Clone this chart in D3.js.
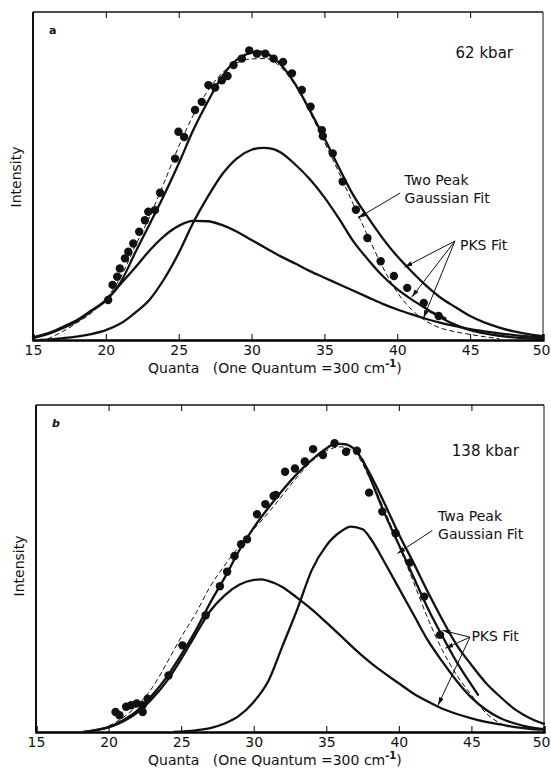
<!DOCTYPE html>
<html>
<head>
<meta charset="utf-8">
<script src="https://cdn.jsdelivr.net/npm/d3@7"></script>
<style>
  body { margin: 0; background: #fff; }
  text { font-family: "DejaVu Sans", sans-serif; fill: #111; }
</style>
</head>
<body>
<script>
// ---- data: [quanta, intensity (0-100 of frame height)] ----
var xTicks = [15, 20, 25, 30, 35, 40, 45, 50];
var innerTicks = [20, 25, 30, 35, 40, 45];

// panel a (62 kbar)
var aPks = [[15,0.8],[16,2],[17,3.9],[18,6],[19,9],[20,12.2],[21,17.5],[22,26.5],[23,35.3],[24,44.2],[25,53.8],[26,64],[27,72.7],[28,80.5],[29,85.5],[30,87.6],[30.5,88],[31,87.4],[32,84],[33,78],[34,70],[35,61.5],[36,52.5],[37,44],[38,37.3],[39,31],[40,25.5],[41,20.8],[42,16.5],[43,12.8],[44,10],[45,7.3],[46,5.3],[47,3.8],[48,2.6],[49,1.8],[50,1.2]];
var aDashed = [[16,0.3],[17,2.5],[18,5.2],[19,8.2],[20,12.5],[21,19],[22,28.5],[23,37.5],[24,48],[25,59],[26,68.5],[27,76],[28,81.5],[29,84.5],[30,85.7],[31,85.8],[32,83.2],[33,77.5],[34,69.5],[35,60.3],[36,51],[37,41.2],[38,31.5],[39,22.2],[40,14.5],[41,9.2],[42,5.7],[43,3.6],[44,2.5],[45,1.7],[46,1],[47,0.4]];
var aComp1 = [[15,0.6],[16,1.8],[17,3.5],[18,5.7],[19,8.8],[20,12],[21,17],[22,22],[23,27.3],[24,31.7],[25,34.8],[26,36.3],[27,36.2],[28,35],[29,33],[30,30.5],[31,28],[32,25.5],[33,23.3],[34,21],[35,19],[36,17],[37,15],[38,13],[39,11],[40,9.3],[41,7.8],[42,6.4],[43,5.2],[44,4.2],[45,3.3],[46,2.6],[47,2],[48,1.5],[49,1.1],[50,0.8]];
var aComp2 = [[15.5,0],[17,0.5],[18,1],[19,1.8],[20,3],[21,5],[22,8.3],[23,12.3],[24,18.6],[25,26.5],[26,35.8],[27,43.7],[28,50.6],[29,55.4],[30,58],[30.8,58.6],[31.5,58.2],[32,57.2],[33,53.5],[34,49],[35,43.5],[36,37],[37,30],[38,24.5],[39,19.5],[40,15.5],[41,12.3],[42,9.5],[43,6.8],[44,4.6],[45,3],[46,2],[47,1.3],[48,0.8],[49,0.5],[50,0.3]];
var aTail = [[42.2,8.8],[43.3,6.6]];
var aDots = [[20.16,12.2],[20.46,16.8],[20.78,19.3],[20.96,21.8],[21.31,24.9],[21.54,26.9],[21.88,29.4],[22.29,33],[22.68,36.5],[22.91,39.1],[23.37,39.6],[23.72,44.9],[24.75,55.3],[24.98,63.5],[25.37,61.9],[26.12,70.1],[26.58,72.6],[27.04,77.7],[27.5,77],[27.96,79.2],[28.35,80.5],[28.76,83.8],[29.33,85.8],[29.84,88.3],[30.37,87.3],[30.94,87.3],[31.51,85.8],[32.16,84.8],[32.77,81.3],[33.45,76.2],[34.05,71.1],[34.82,64],[34.89,62.2],[35.57,56.9],[36.25,48.3],[37.16,39.7],[37.95,31.1],[38.86,24],[39.77,19.5],[40.68,15.9],[41.82,11.3],[42.84,7.3]];

// panel b (138 kbar)
var bPks = [[18.3,0],[19,0.5],[20,1.5],[21,3.6],[22,6.6],[23,11.2],[24,16.8],[25,23.6],[26,31],[27,39.5],[28,47.2],[29,55.5],[30,62.5],[31,68.5],[32,74],[33,79],[34,83.2],[35,86.7],[35.6,88.2],[36.3,88],[37,86.2],[38,79],[39,70],[40,60.5],[41,51.8],[42,42.8],[43,34.3],[44,26.5],[45,20.5],[46,15],[47,10.7],[48,6.9],[49,4.3],[50,2.5]];
var bInner = [[37.5,83.3],[38,78],[39,67],[40,57.3],[41,47.5],[42,37.8],[43,29.3],[44,21.3],[45,14.4],[45.45,11.4]];
var bDashed = [[20,1.8],[21,4.4],[22,8.2],[23,13.5],[24,21],[25,29],[26,36.2],[27,44.5],[28,51],[29,56.8],[30,62],[31,67],[32,72.5],[33,78],[34,82.8],[35,86],[36,87.2],[37,85.3],[38,77.5],[39,68],[40,57],[41,46],[42,34.7],[43,25],[44,17.3],[45,11.3],[46,5.8],[47,2.6],[47.5,1.5]];
var bComp1 = [[18.3,0],[19,0.5],[20,1.4],[21,3.2],[22,6],[23,10.2],[24,15.5],[25,22.3],[26,29.8],[27,37],[28,41.8],[29,45],[30,46.5],[30.5,46.7],[31,46.2],[32,44.3],[33,41],[34,37.5],[35,33.5],[36,29.4],[37,25.2],[38,21.4],[39,18],[40,14.9],[41,11.8],[42,9.3],[43,7.1],[44,5.5],[45,4.2],[46,3.1],[47,2.3],[48,1.5],[49,1],[50,0.7]];
var bComp2 = [[24.5,0],[26,0.5],[27,1.2],[28,2.6],[29,5],[30,9.2],[31,15.5],[32,26.5],[33,37.5],[34,49.5],[35,57],[36,61.3],[36.7,62.8],[37.5,62],[38,59.5],[39,52],[40,44],[41,36],[42,28],[43,21.5],[44,15.5],[45,10.5],[46,6.8],[47,4.2],[48,2.6],[49,1.5],[50,0.9]];
var bDots = [[20.48,6.1],[20.75,5.1],[21.21,7.7],[21.55,8.2],[21.94,8.7],[22.35,8.2],[22.69,10.2],[22.35,6.1],[24.13,17.3],[25.09,26.5],[26.69,35.7],[27.67,44.6],[28.17,49],[28.68,53.8],[29.13,57.4],[29.54,58.9],[30.23,66.6],[30.8,69.7],[31.37,72.2],[31.52,72.5],[32.16,79.6],[32.84,80.6],[33.52,82.7],[34.09,86.5],[34.77,84.7],[35.57,88.3],[36.36,85.7],[37.11,86],[37.95,73.2],[38.86,67.4],[39.77,60.8],[40.75,51.8],[41.75,41.4],[42.84,29.7]];

var svg = d3.select("body").append("svg")
    .attr("width", 551)
    .attr("height", 769);

svg.append("defs").append("marker")
    .attr("id", "arrow")
    .attr("markerUnits", "userSpaceOnUse")
    .attr("viewBox", "0 0 10 6")
    .attr("refX", 10).attr("refY", 3)
    .attr("markerWidth", 8).attr("markerHeight", 5)
    .attr("orient", "auto")
  .append("path")
    .attr("d", "M0,0 L10,3 L0,6 z")
    .attr("fill", "#111");

function drawPanel(p) {
    var x = d3.scaleLinear().domain([15, 50]).range([p.left, p.right]);
    var y = d3.scaleLinear().domain([0, 100]).range([p.bottom, p.top]);
    var g = svg.append("g");

    var line = d3.line()
        .x(function(d) { return x(d[0]); })
        .y(function(d) { return y(d[1]); })
        .curve(d3.curveMonotoneX);

    // frame
    g.append("line").attr("x1", p.left).attr("x2", p.right).attr("y1", p.top).attr("y2", p.top)
        .attr("stroke", "#111").attr("stroke-width", 1.6);
    g.append("line").attr("x1", p.left).attr("x2", p.left).attr("y1", p.top).attr("y2", p.bottom)
        .attr("stroke", "#111").attr("stroke-width", 2);
    g.append("line").attr("x1", p.right).attr("x2", p.right).attr("y1", p.top).attr("y2", p.bottom)
        .attr("stroke", "#111").attr("stroke-width", 1);

    // bottom axis, ticks pointing inward
    var bottom = g.append("g")
        .attr("transform", "translate(0," + p.bottom + ")")
        .call(d3.axisBottom(x).tickValues(xTicks).tickSize(-6).tickPadding(5).tickFormat(d3.format("d")));
    bottom.select(".domain").attr("stroke-width", 2.4);
    bottom.selectAll(".tick line").attr("stroke-width", 1);
    bottom.selectAll(".tick text").attr("font-size", 14).attr("font-family", "DejaVu Sans").attr("fill", "#111");
    // last label sits on the page edge; keep it inside
    bottom.selectAll(".tick text").filter(function(d) { return d === 50; })
        .attr("text-anchor", "end").attr("x", 551 - p.right - 1);

    // top ticks
    var top = g.append("g")
        .attr("transform", "translate(0," + p.top + ")")
        .call(d3.axisTop(x).tickValues(innerTicks).tickSize(-6).tickFormat(""));
    top.select(".domain").remove();

    // curves
    p.solid.forEach(function(s) {
        g.append("path").datum(s)
            .attr("d", line)
            .attr("fill", "none")
            .attr("stroke", "#111")
            .attr("stroke-width", 2.3)
            .attr("stroke-linecap", "round");
    });
    g.append("path").datum(p.dashed)
        .attr("d", line)
        .attr("fill", "none")
        .attr("stroke", "#111")
        .attr("stroke-width", 1)
        .attr("stroke-dasharray", "5,3");

    g.selectAll(".dot")
        .data(p.dots)
        .enter().append("circle")
        .attr("class", "dot")
        .attr("cx", function(d) { return x(d[0]); })
        .attr("cy", function(d) { return y(d[1]); })
        .attr("r", 4.2)
        .attr("fill", "#111");

    // annotations
    g.append("text").attr("x", x(p.pressure[0])).attr("y", y(p.pressure[1]))
        .attr("font-size", 15).text(p.pressure[2]);
    g.append("text").attr("x", x(p.gauss[0])).attr("y", y(p.gauss[1]))
        .attr("font-size", 14).text(p.gauss[2]);
    g.append("text").attr("x", x(p.gauss[0])).attr("y", y(p.gauss[1]) + 18)
        .attr("font-size", 14).text("Gaussian Fit");
    g.append("text").attr("x", x(p.pks[0])).attr("y", y(p.pks[1]))
        .attr("font-size", 14).text("PKS Fit");

    p.arrows.forEach(function(a) {
        g.append("line")
            .attr("x1", x(a[0])).attr("y1", y(a[1]))
            .attr("x2", x(a[2])).attr("y2", y(a[3]))
            .attr("stroke", "#111").attr("stroke-width", 1)
            .attr("marker-end", "url(#arrow)");
    });

    g.append("text").attr("x", p.left + 16).attr("y", p.top + 22)
        .attr("font-size", 11).attr("font-weight", "bold")
        .attr("font-style", p.letterStyle).text(p.letter);

    // axis titles
    var t = g.append("text").attr("x", 148).attr("y", p.bottom + 33).attr("font-size", 14)
        .attr("xml:space", "preserve");
    t.append("tspan").text("Quanta   (One Quantum =300 cm");
    t.append("tspan").attr("dy", -6).attr("font-size", 10).attr("font-weight", "bold").text("-1");
    t.append("tspan").attr("dy", 6).text(")");

    g.append("text")
        .attr("transform", "translate(" + (p.left - 12) + "," + p.yLabel + ") rotate(-90)")
        .attr("text-anchor", "middle")
        .attr("font-size", 14)
        .text("Intensity");
}

drawPanel({
    left: 33, right: 543, top: 12, bottom: 340,
    solid: [aPks, aComp1, aComp2, aTail],
    dashed: aDashed,
    dots: aDots,
    pressure: [44.0, 86, "62 kbar"],
    gauss: [40.5, 47.3, "Two Peak"],
    pks: [44.3, 27.4],
    arrows: [[40.2, 44.8, 37.3, 37.2], [43.96, 30.2, 40.5, 22.2], [43.96, 30.2, 41.0, 13.1], [43.96, 30.2, 41.8, 6.7]],
    letter: "a", letterStyle: "normal",
    yLabel: 177
});

drawPanel({
    left: 36, right: 544, top: 405, bottom: 732,
    solid: [bPks, bInner, bComp1, bComp2],
    dashed: bDashed,
    dots: bDots,
    pressure: [43.65, 84.5, "138 kbar"],
    gauss: [42.7, 64.6, "Twa Peak"],
    pks: [45.0, 27.7],
    arrows: [[42.3, 61.6, 39.9, 54.6], [44.9, 29, 43.0, 31.1], [44.9, 29, 43.2, 25.6], [44.9, 29, 42.7, 8.2]],
    letter: "b", letterStyle: "italic",
    yLabel: 566
});
</script>
</body>
</html>
